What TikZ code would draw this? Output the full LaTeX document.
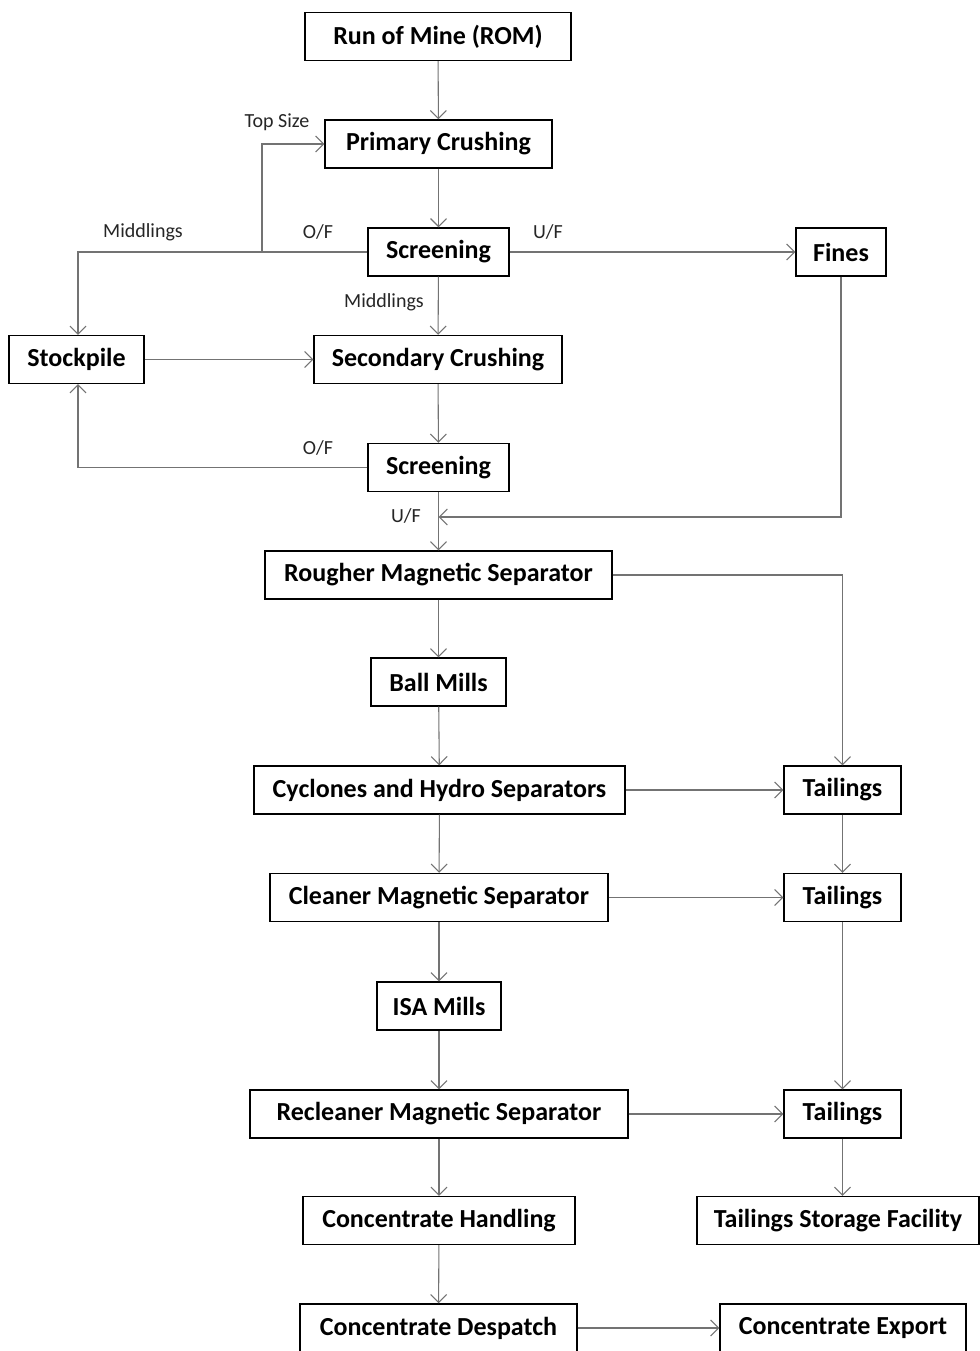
\documentclass[tikz,border=0pt]{standalone}
\usepackage{fontspec}
\setmainfont{Carlito}
\usetikzlibrary{arrows.meta}
\begin{document}
\begin{tikzpicture}[x=0.75pt,y=-0.75pt,
  box/.style={draw=black,line width=1.1pt,fill=white,inner sep=0pt,minimum height=36pt,
    font=\fontsize{19.5}{22}\selectfont\bfseries},
  flow/.style={draw=black!55,line width=0.8pt,-{Straight Barb[length=6pt,width=12pt,line width=0.8pt]}},
  lbl/.style={font=\fontsize{15}{17}\selectfont,text=black!85,inner sep=0pt}]
\path[use as bounding box,fill=white] (0,0) rectangle (980,1351);
% boxes
\node[box,minimum width=266*0.75pt] (rom) at (438,36.5) {Run of Mine (ROM)};
\node[box,minimum width=227*0.75pt] (pc) at (438.5,144) {Primary Crushing};
\node[box,minimum width=141*0.75pt] (s1) at (438.5,252) {Screening};
\node[box,minimum width=90*0.75pt] (fines) at (841,252) {Fines};
\node[box,minimum width=135*0.75pt] (sp) at (76.5,359.5) {Stockpile};
\node[box,minimum width=248*0.75pt] (sc) at (438,359.5) {Secondary Crushing};
\node[box,minimum width=141*0.75pt] (s2) at (438.5,467.5) {Screening};
\node[box,minimum width=347*0.75pt] (rms) at (438.5,575) {Rougher Magnetic Separator};
\node[box,minimum width=135*0.75pt] (bm) at (438.5,682) {Ball Mills};
\node[box,minimum width=371*0.75pt] (cyc) at (439.5,790) {Cyclones and Hydro Separators};
\node[box,minimum width=117*0.75pt] (t1) at (842.5,790) {Tailings};
\node[box,minimum width=338*0.75pt] (cms) at (439,897.5) {Cleaner Magnetic Separator};
\node[box,minimum width=117*0.75pt] (t2) at (842.5,897.5) {Tailings};
\node[box,minimum width=124*0.75pt] (isa) at (439,1006) {ISA Mills};
\node[box,minimum width=378*0.75pt] (rcm) at (439,1114) {Recleaner Magnetic Separator};
\node[box,minimum width=117*0.75pt] (t3) at (842.5,1114) {Tailings};
\node[box,minimum width=272*0.75pt] (ch) at (439,1220.5) {Concentrate Handling};
\node[box,minimum width=282*0.75pt] (tsf) at (838,1220.5) {Tailings Storage Facility};
\node[box,minimum width=277*0.75pt] (cd) at (438.5,1328) {Concentrate Despatch};
\node[box,minimum width=246*0.75pt] (ce) at (843,1328) {Concentrate Export};
% helper coordinates
\coordinate (jx) at (262,252);
\coordinate (fy) at (841,517);
\coordinate (uy) at (438.5,517);
% connectors
\draw[flow] (rom) -- (pc);
\draw[flow] (pc) -- (s1);
\draw[flow] (s1) -- (fines);
\draw[flow] (s1.west) -- (78,252) -- (sp.north -| 78,0);
\draw[flow] (jx) |- (pc.west);
\draw[flow] (s1) -- (sc);
\draw[flow] (sp) -- (sc);
\draw[flow] (sc) -- (s2);
\draw[flow] (s2.west) -- (78,467.5) -- (sp.south -| 78,0);
\draw[flow] (s2) -- (rms);
\draw[flow] (fines.south) -- (fy) -- (uy);
\draw[flow] (rms.east) -| (t1.north);
\draw[flow] (rms) -- (bm);
\draw[flow] (bm) -- (cyc);
\draw[flow] (cyc) -- (cms);
\draw[flow] (cms) -- (isa);
\draw[flow] (isa) -- (rcm);
\draw[flow] (rcm) -- (ch);
\draw[flow] (ch) -- (cd);
\draw[flow] (cyc) -- (t1);
\draw[flow] (cms) -- (t2);
\draw[flow] (rcm) -- (t3);
\draw[flow] (t1) -- (t2);
\draw[flow] (t2) -- (t3);
\draw[flow] (t3) -- (t3 |- tsf.north);
\draw[flow] (cd) -- (ce);
% labels
\node[lbl] (l1) at (277,122) {Top Size};
\node[lbl] (l2) at (143,232) {Middlings};
\node[lbl] (l3) at (318,232) {O/F};
\node[lbl] (l4) at (548,232) {U/F};
\node[lbl] (l5) at (384,302) {Middlings};
\node[lbl] (l6) at (318,448) {O/F};
\node[lbl] (l7) at (406,516) {U/F};
\end{tikzpicture}
\end{document}
